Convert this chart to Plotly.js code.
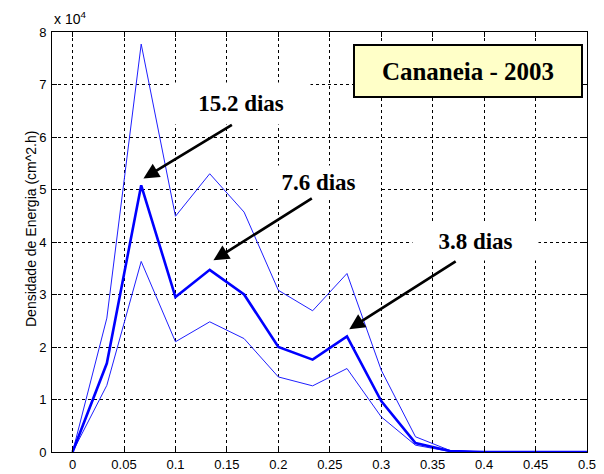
<!DOCTYPE html>
<html>
<head>
<meta charset="utf-8">
<script src="https://cdn.plot.ly/plotly-3.0.1.min.js"></script>
<style>html,body{margin:0;padding:0;background:#fff;}#chart{width:604px;height:474px;}</style>
</head>
<body>
<div id="chart"></div>
<script>
// frequency (cycles per hour)
var freq = [0, 0.0333, 0.0667, 0.1, 0.1333, 0.1667, 0.2, 0.2333, 0.2667, 0.3, 0.3333, 0.3667, 0.4, 0.4333, 0.4667, 0.5];
// energy density, units of 1e4 (cm^2.h)
var upper  = [0, 2.55, 7.77, 4.49, 5.30, 4.57, 3.08, 2.69, 3.40, 1.56, 0.29, 0.03, 0, 0, 0, 0];
var middle = [0, 1.69, 5.08, 2.95, 3.47, 3.00, 2.00, 1.76, 2.20, 0.97, 0.17, 0.02, 0, 0, 0, 0];
var lower  = [0, 1.27, 3.63, 2.10, 2.48, 2.16, 1.43, 1.26, 1.59, 0.67, 0.13, 0.01, 0, 0, 0, 0];
var xTicks = [0, 0.05, 0.1, 0.15, 0.2, 0.25, 0.3, 0.35, 0.4, 0.45, 0.5];
var xTickText = ["0", "0.05", "0.1", "0.15", "0.2", "0.25", "0.3", "0.35", "0.4", "0.45", "0.5"];
var yTicks = [0, 1, 2, 3, 4, 5, 6, 7, 8];
var peakLabels = ["15.2 dias", "7.6 dias", "3.8 dias"];
var peakIdx = [2, 4, 8];

var traces = [
  {x: freq, y: upper, mode: 'lines', line: {color: '#1f1fff', width: 1}, hoverinfo: 'none'},
  {x: freq, y: lower, mode: 'lines', line: {color: '#1f1fff', width: 1}, hoverinfo: 'none'},
  {x: freq, y: middle, mode: 'lines', line: {color: '#0000ff', width: 2.6}, hoverinfo: 'none'}
];

var labelFont = {family: 'Liberation Serif, Times New Roman, serif', size: 23, color: '#000'};
// label box centres and sizes, arrow tails (data coords)
var labelPos = [[0.1641, 6.645], [0.2393, 5.124], [0.3917, 4.011]];
var labelBox = [[130, 33], [113, 25], [117, 30]];
var tailPos = [[0.1563, 6.25], [0.234, 4.85], [0.3738, 3.65]];
var tipOff = [[0.0022, 0.13], [0.0036, 0.18], [0.0022, 0.14]];

var ann = [];
for (var i = 0; i < 3; i++) {
  ann.push({
    x: labelPos[i][0], y: labelPos[i][1], xref: 'x', yref: 'y',
    text: '<b>' + peakLabels[i] + '</b>', showarrow: false, font: labelFont,
    bgcolor: '#ffffff', borderpad: 4, width: labelBox[i][0], height: labelBox[i][1],
    align: 'center', valign: 'middle', xanchor: 'center', yanchor: 'middle'
  });
}
for (var j = 0; j < 3; j++) {
  var k = peakIdx[j];
  ann.push({
    x: freq[k] + tipOff[j][0], y: middle[k] + tipOff[j][1], xref: 'x', yref: 'y',
    ax: tailPos[j][0], ay: tailPos[j][1], axref: 'x', ayref: 'y',
    text: '', showarrow: true, arrowhead: 2, arrowsize: 1.15, arrowwidth: 2.7, arrowcolor: '#000', standoff: 0, startstandoff: 0
  });
}
ann.push({
  x: 0.3845, y: 7.26, xref: 'x', yref: 'y',
  text: '<b>Cananeia - 2003</b>', showarrow: false,
  font: {family: 'Liberation Serif, Times New Roman, serif', size: 25, color: '#000'},
  bgcolor: '#ffffc8', bordercolor: '#000', borderwidth: 2, borderpad: 1,
  width: 224, height: 48, align: 'center', valign: 'middle', xanchor: 'center', yanchor: 'middle'
});
ann.push({
  x: 0, y: 1, xref: 'paper', yref: 'paper', xanchor: 'left', yanchor: 'bottom', yshift: 3,
  text: 'x 10<sup>4</sup>', showarrow: false,
  font: {family: 'Liberation Sans, Arial, sans-serif', size: 14, color: '#000'}
});
var plotL = 52, plotR = 587, plotT = 32, plotB = 452;
ann.push({
  x: (21 - plotL) / (plotR - plotL), y: (plotB - 229) / (plotB - plotT), xref: 'paper', yref: 'paper', showarrow: false,
  text: 'Densidade de Energia (cm^2.h)', textangle: -90,
  font: {family: 'Liberation Sans, Arial, sans-serif', size: 14, color: '#000'}
});

var axisCommon = {
  showline: true, linecolor: '#000', linewidth: 1, mirror: 'ticks',
  ticks: 'inside', ticklen: 5, tickcolor: '#000',
  showgrid: true, gridcolor: '#000', gridwidth: 1, griddash: '3px,3px',
  zeroline: false,
  tickfont: {family: 'Liberation Sans, Arial, sans-serif', size: 13, color: '#000'}
};

var layout = {
  width: 604, height: 474,
  margin: {l: 52, r: 17, t: 32, b: 22, pad: 0},
  paper_bgcolor: '#fff', plot_bgcolor: '#fff',
  showlegend: false,
  xaxis: Object.assign({}, axisCommon, {range: [-0.02, 0.5], tickvals: xTicks, ticktext: xTickText}),
  yaxis: Object.assign({}, axisCommon, {range: [0, 8], tickvals: yTicks, ticklabelstandoff: 2}),
  annotations: ann
};

Plotly.newPlot('chart', traces, layout, {staticPlot: true, displayModeBar: false});
</script>
</body>
</html>
